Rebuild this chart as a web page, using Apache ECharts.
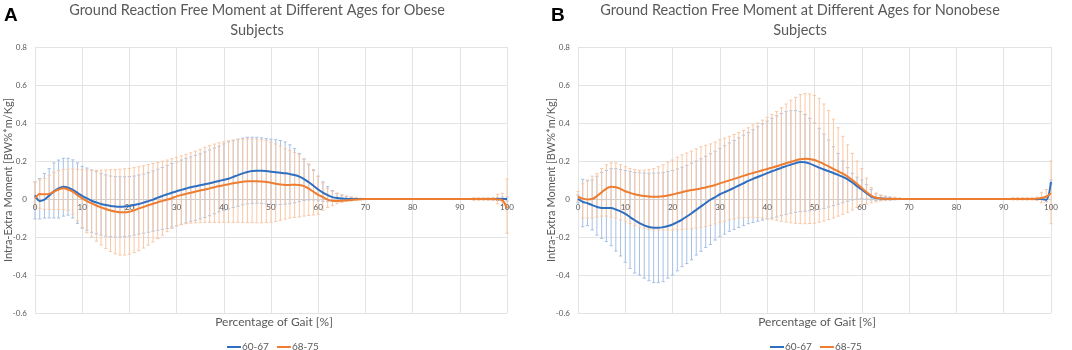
<!DOCTYPE html>
<html><head><meta charset="utf-8">
<script src="https://cdn.jsdelivr.net/npm/echarts@6/dist/echarts.min.js"></script>
<style>html,body{margin:0;padding:0;background:#fff}#c{width:1072px;height:350px}</style>
</head><body><div id="c"></div>
<script>
// Percentage of gait (x positions)
const gaitPct = [0,1,2,3,4,5,6,7,8,9,10,11,12,13,14,15,16,17,18,19,20,21,22,23,24,25,26,27,28,29,30,31,32,33,34,35,36,37,38,39,40,41,42,43,44,45,46,47,48,49,50,51,52,53,54,55,56,57,58,59,60,61,62,63,64,65,66,67,68,69,70,71,72,73,74,75,76,77,78,79,80,81,82,83,84,85,86,87,88,89,90,91,92,93,94,95,96,97,98,99,100];
const seriesNames = ['60-67', '68-75'];
const yTicks = [-0.6, -0.4, -0.2, 0, 0.2, 0.4, 0.6, 0.8];
const xTicks = [0, 10, 20, 30, 40, 50, 60, 70, 80, 90, 100];

// ---- Panel A (Obese) ----
const obese6067Mean = [
0.02,-0.01,-0.003,0.018,0.04,0.056,0.064,0.06,0.048,0.032,
0.016,0.003,-0.009,-0.018,-0.026,-0.032,-0.037,-0.04,-0.041,-0.04,
-0.037,-0.032,-0.026,-0.019,-0.011,-0.003,0.007,0.016,0.025,0.033,
0.041,0.048,0.055,0.062,0.067,0.072,0.078,0.083,0.089,0.095,
0.101,0.107,0.116,0.126,0.135,0.142,0.147,0.149,0.149,0.147,
0.144,0.141,0.138,0.135,0.131,0.126,0.118,0.105,0.088,0.07,
0.05,0.033,0.02,0.01,0.005,0.002,0.001,0,0,0,
0,0,0,0,0,0,0,0,0,0,
0,0,0,0,0,0,0,0,0,0,
0,0,0,0,0,0,0,0,0,0,
0];
const obese6067Hi = [
0.09,0.108,0.135,0.16,0.19,0.205,0.214,0.214,0.206,0.19,
0.172,0.163,0.152,0.144,0.135,0.127,0.121,0.118,0.117,0.117,
0.118,0.121,0.126,0.131,0.139,0.148,0.157,0.166,0.177,0.187,
0.196,0.205,0.214,0.222,0.23,0.238,0.248,0.258,0.268,0.278,
0.29,0.3,0.308,0.315,0.32,0.325,0.325,0.325,0.322,0.318,
0.315,0.312,0.308,0.3,0.285,0.265,0.24,0.21,0.18,0.15,
0.12,0.09,0.065,0.045,0.03,0.02,0.013,0.008,0.005,0.003,
null,null,null,null,null,null,null,null,null,null,
null,null,null,null,null,null,null,null,null,null,
null,null,null,0.004,0.004,0.004,0.005,0.006,0.008,0.01,
0.01];
const obese6067Lo = [
-0.105,-0.105,-0.1,-0.1,-0.1,-0.1,-0.09,-0.085,-0.1,-0.128,
-0.154,-0.165,-0.175,-0.183,-0.19,-0.195,-0.198,-0.2,-0.2,-0.198,
-0.195,-0.19,-0.185,-0.18,-0.175,-0.17,-0.165,-0.16,-0.155,-0.148,
-0.14,-0.133,-0.126,-0.118,-0.112,-0.105,-0.097,-0.088,-0.078,-0.068,
-0.06,-0.052,-0.045,-0.038,-0.031,-0.026,-0.023,-0.022,-0.023,-0.026,
-0.028,-0.03,-0.029,-0.027,-0.025,-0.02,-0.014,-0.008,-0.005,-0.005,
-0.01,-0.012,-0.012,-0.01,-0.008,-0.006,-0.005,-0.004,-0.003,-0.002,
null,null,null,null,null,null,null,null,null,null,
null,null,null,null,null,null,null,null,null,null,
null,null,null,-0.004,-0.004,-0.004,-0.005,-0.006,-0.008,-0.01,
-0.01];
const obese6875Mean = [
0.003,0.026,0.025,0.027,0.038,0.05,0.056,0.05,0.039,0.02,
0.003,-0.011,-0.023,-0.034,-0.044,-0.053,-0.061,-0.066,-0.07,-0.07,
-0.067,-0.06,-0.05,-0.042,-0.033,-0.025,-0.017,-0.01,-0.003,0.004,
0.014,0.021,0.027,0.033,0.039,0.045,0.05,0.056,0.062,0.068,
0.073,0.078,0.083,0.087,0.091,0.093,0.094,0.094,0.092,0.089,
0.085,0.08,0.076,0.074,0.074,0.075,0.074,0.068,0.055,0.038,
0.022,0.01,-0.003,-0.009,-0.01,-0.009,-0.007,-0.005,-0.003,-0.001,
0,0,0,0,0,0,0,0,0,0,
0,0,0,0,0,0,0,0,0,0,
0,0,0,0,0,0,0,0,-0.002,-0.006,
-0.05];
const obese6875Hi = [
0.09,0.1,0.11,0.125,0.14,0.15,0.155,0.158,0.158,0.156,
0.155,0.153,0.152,0.152,0.152,0.153,0.154,0.155,0.157,0.159,
0.161,0.165,0.17,0.175,0.181,0.187,0.193,0.199,0.205,0.212,
0.219,0.227,0.235,0.243,0.252,0.262,0.272,0.281,0.289,0.296,
0.301,0.306,0.31,0.313,0.315,0.316,0.316,0.315,0.312,0.308,
0.3,0.29,0.278,0.265,0.255,0.245,0.232,0.212,0.185,0.155,
0.12,0.085,0.055,0.04,0.03,0.022,0.016,0.012,0.008,0.004,
null,null,null,null,null,null,null,null,null,null,
null,null,null,null,null,null,null,null,null,null,
null,null,null,0.006,0.006,0.006,0.006,0.008,0.025,0.03,
0.105];
const obese6875Lo = [
-0.04,-0.05,-0.055,-0.055,-0.055,-0.055,-0.055,-0.06,-0.08,-0.115,
-0.15,-0.178,-0.2,-0.222,-0.242,-0.26,-0.276,-0.288,-0.295,-0.295,
-0.29,-0.282,-0.272,-0.258,-0.243,-0.226,-0.208,-0.19,-0.172,-0.155,
-0.142,-0.135,-0.13,-0.127,-0.125,-0.124,-0.123,-0.123,-0.123,-0.123,
-0.123,-0.123,-0.123,-0.123,-0.123,-0.123,-0.124,-0.125,-0.125,-0.124,
-0.122,-0.118,-0.112,-0.106,-0.1,-0.097,-0.094,-0.09,-0.087,-0.084,
-0.08,-0.06,-0.045,-0.035,-0.025,-0.018,-0.013,-0.01,-0.007,-0.004,
null,null,null,null,null,null,null,null,null,null,
null,null,null,null,null,null,null,null,null,null,
null,null,null,-0.006,-0.006,-0.006,-0.006,-0.008,-0.025,-0.035,
-0.18];

// ---- Panel B (Nonobese) ----
const nonobese6067Mean = [
0,-0.015,-0.022,-0.032,-0.042,-0.047,-0.048,-0.048,-0.055,-0.065,
-0.078,-0.095,-0.112,-0.127,-0.139,-0.147,-0.151,-0.151,-0.148,-0.142,
-0.134,-0.122,-0.108,-0.092,-0.075,-0.057,-0.039,-0.021,-0.004,0.01,
0.025,0.036,0.047,0.059,0.071,0.083,0.095,0.106,0.116,0.126,
0.136,0.146,0.155,0.164,0.173,0.181,0.189,0.195,0.193,0.186,
0.176,0.165,0.155,0.146,0.137,0.127,0.116,0.103,0.087,0.068,
0.05,0.03,0.013,0.005,0.003,0.001,0.001,0,0,0,
0,0,0,0,0,0,0,0,0,0,
0,0,0,0,0,0,0,0,0,0,
0,0,0,0,0,0,0,0,0,-0.005,
0.09];
const nonobese6067Hi = [
0.02,0.104,0.095,0.1,0.12,0.14,0.15,0.16,0.16,0.155,
0.15,0.145,0.14,0.138,0.137,0.136,0.136,0.137,0.14,0.145,
0.15,0.158,0.167,0.177,0.188,0.2,0.212,0.225,0.238,0.252,
0.266,0.28,0.295,0.308,0.322,0.336,0.35,0.365,0.38,0.395,
0.41,0.425,0.438,0.45,0.46,0.465,0.465,0.46,0.445,0.425,
0.4,0.372,0.342,0.31,0.275,0.24,0.2,0.165,0.135,0.115,
0.1,0.075,0.05,0.03,0.02,0.014,0.01,0.007,0.004,0.002,
null,null,null,null,null,null,null,null,null,null,
null,null,null,null,null,null,null,null,null,null,
null,null,null,0.003,0.003,0.003,0.003,0.003,0.003,0.005,
0.1];
const nonobese6067Lo = [
-0.02,-0.146,-0.14,-0.163,-0.19,-0.207,-0.224,-0.246,-0.274,-0.3,
-0.333,-0.365,-0.39,-0.4,-0.417,-0.43,-0.44,-0.44,-0.435,-0.417,
-0.4,-0.378,-0.356,-0.34,-0.32,-0.295,-0.275,-0.255,-0.24,-0.216,
-0.198,-0.185,-0.17,-0.16,-0.15,-0.14,-0.13,-0.124,-0.117,-0.111,
-0.105,-0.1,-0.095,-0.088,-0.081,-0.075,-0.07,-0.067,-0.065,-0.062,
-0.06,-0.055,-0.05,-0.042,-0.035,-0.027,-0.02,-0.012,-0.005,0,
0.003,0,-0.005,-0.008,-0.008,-0.007,-0.006,-0.004,-0.003,-0.002,
null,null,null,null,null,null,null,null,null,null,
null,null,null,null,null,null,null,null,null,null,
null,null,null,-0.003,-0.003,-0.003,-0.003,-0.003,-0.003,-0.015,
0.08];
const nonobese6875Mean = [
0.012,0.002,-0.002,0,0.015,0.035,0.055,0.064,0.062,0.053,
0.041,0.032,0.025,0.02,0.016,0.013,0.012,0.012,0.014,0.018,
0.024,0.03,0.036,0.042,0.047,0.051,0.056,0.061,0.067,0.074,
0.082,0.09,0.098,0.106,0.114,0.122,0.13,0.137,0.144,0.151,
0.158,0.165,0.172,0.18,0.188,0.196,0.203,0.209,0.212,0.211,
0.205,0.195,0.184,0.172,0.159,0.146,0.133,0.118,0.1,0.079,
0.058,0.037,0.018,0.007,0.003,0.001,0,0,0,0,
0,0,0,0,0,0,0,0,0,0,
0,0,0,0,0,0,0,0,0,0,
0,0,0,0,0,0,0,0.002,0.005,0.012,
0.03];
const nonobese6875Hi = [
0.04,0.08,0.1,0.12,0.135,0.16,0.18,0.19,0.19,0.18,
0.17,0.16,0.155,0.152,0.152,0.155,0.16,0.17,0.18,0.195,
0.205,0.22,0.232,0.242,0.252,0.264,0.275,0.283,0.29,0.3,
0.312,0.32,0.33,0.34,0.35,0.36,0.375,0.39,0.4,0.415,
0.43,0.445,0.46,0.48,0.5,0.52,0.535,0.55,0.555,0.553,
0.545,0.53,0.5,0.465,0.42,0.375,0.33,0.285,0.24,0.2,
0.16,0.11,0.06,0.03,0.02,0.015,0.01,0.01,0.005,null,
null,null,null,null,null,null,null,null,null,null,
null,null,null,null,null,null,null,null,null,null,
null,null,0.007,0.007,0.007,0.007,0.007,0.01,0.035,0.05,
0.2];
const nonobese6875Lo = [
-0.01,-0.1,-0.1,-0.1,-0.095,-0.09,-0.09,-0.095,-0.1,-0.11,
-0.12,-0.13,-0.14,-0.148,-0.155,-0.16,-0.163,-0.163,-0.163,-0.163,
-0.163,-0.162,-0.16,-0.158,-0.156,-0.153,-0.149,-0.144,-0.138,-0.131,
-0.124,-0.117,-0.11,-0.105,-0.1,-0.098,-0.097,-0.097,-0.098,-0.1,
-0.103,-0.107,-0.112,-0.117,-0.121,-0.125,-0.128,-0.13,-0.13,-0.129,
-0.127,-0.122,-0.116,-0.108,-0.1,-0.09,-0.08,-0.07,-0.058,-0.045,
-0.035,-0.027,-0.02,-0.015,-0.01,-0.007,-0.005,-0.004,-0.003,null,
null,null,null,null,null,null,null,null,null,null,
null,null,null,null,null,null,null,null,null,null,
null,null,-0.005,-0.005,-0.005,-0.005,-0.005,-0.008,-0.02,-0.015,
-0.13];

const FONT = 'Lato, "Open Sans", sans-serif';
const GREY = '#595959';
const BLUE = '#2e6fc2', ORANGE = '#ed7d31';
const BLUE_ERR = '#a6c0e6', ORANGE_ERR = '#f8c8a6';
const GRID_C = '#e3e3e3';

function lineData(m) { return gaitPct.map((x, i) => [x, m[i]]); }
function errData(lo, hi) {
  const d = [];
  for (let i = 0; i < gaitPct.length; i++) {
    if (lo[i] != null && hi[i] != null) d.push([gaitPct[i], lo[i], hi[i]]);
  }
  return d;
}
function renderErr(color) {
  return function (params, api) {
    const x = api.value(0);
    const p1 = api.coord([x, api.value(1)]);
    const p2 = api.coord([x, api.value(2)]);
    const w = 1.6;
    const st = { stroke: color, lineWidth: 1 };
    return { type: 'group', children: [
      { type: 'line', shape: { x1: p1[0], y1: p1[1], x2: p2[0], y2: p2[1] }, style: st },
      { type: 'line', shape: { x1: p1[0] - w, y1: p1[1], x2: p1[0] + w, y2: p1[1] }, style: st },
      { type: 'line', shape: { x1: p2[0] - w, y1: p2[1], x2: p2[0] + w, y2: p2[1] }, style: st }
    ]};
  };
}

const grids = [
  { left: 35, top: 47, width: 472, height: 266 },
  { left: 578, top: 47, width: 473, height: 266 }
];
function xAx(g) {
  return { type: 'value', gridIndex: g, min: xTicks[0], max: xTicks[xTicks.length - 1], interval: 10, z: 0,
    axisLine: { show: true, onZero: true, lineStyle: { color: '#cfcfcf', width: 1 } },
    axisTick: { show: false },
    axisLabel: { show: false },
    splitLine: { show: true, lineStyle: { color: GRID_C, width: 1 } } };
}
function yAx(g) {
  return { type: 'value', gridIndex: g, min: yTicks[0], max: yTicks[yTicks.length - 1], interval: 0.2,
    axisLine: { show: false }, axisTick: { show: false },
    axisLabel: { color: GREY, fontSize: 8, margin: 8, fontFamily: FONT },
    splitLine: { show: true, lineStyle: { color: GRID_C, width: 1 } } };
}
function panelSeries(g, m1, lo1, hi1, m2, lo2, hi2) {
  return [
    { type: 'custom', xAxisIndex: g, yAxisIndex: g, renderItem: renderErr(BLUE_ERR), data: errData(lo1, hi1), z: 1, silent: true, encode: { x: 0, y: [1, 2] } },
    { type: 'custom', xAxisIndex: g, yAxisIndex: g, renderItem: renderErr(ORANGE_ERR), data: errData(lo2, hi2), z: 2, silent: true, encode: { x: 0, y: [1, 2] } },
    { name: seriesNames[0], type: 'line', xAxisIndex: g, yAxisIndex: g, data: lineData(m1), showSymbol: false, smooth: 0.3, lineStyle: { color: BLUE, width: 2 }, itemStyle: { color: BLUE }, z: 3 },
    { name: seriesNames[1], type: 'line', xAxisIndex: g, yAxisIndex: g, data: lineData(m2), showSymbol: false, smooth: 0.3, lineStyle: { color: ORANGE, width: 2 }, itemStyle: { color: ORANGE }, z: 4 }
  ];
}
function legendAt(left) {
  return { left: left, top: 337, icon: 'rect', itemWidth: 14, itemHeight: 2, itemGap: 8,
    data: seriesNames, textStyle: { color: GREY, fontSize: 10, fontFamily: FONT, padding: [0, 0, 0, -4] }, selectedMode: false };
}
function txt(x, y, text, opts, z) {
  return Object.assign({ type: 'text', x: x, y: y, silent: true, z: z == null ? 100 : z,
    style: Object.assign({ text: text, fill: GREY, font: '14.5px ' + FONT, textAlign: 'center', textVerticalAlign: 'top' }, opts || {}) });
}

const baseGraphics = [
  txt(4, 6, 'A', { fill: '#000', font: 'bold 19px "Liberation Sans", Arial, sans-serif', textAlign: 'left' }),
  txt(551, 6, 'B', { fill: '#000', font: 'bold 19px "Liberation Sans", Arial, sans-serif', textAlign: 'left' }),
  txt(257, 0, 'Ground Reaction Free Moment at Different Ages for Obese\nSubjects', { lineHeight: 20 }),
  txt(800, 0, 'Ground Reaction Free Moment at Different Ages for Nonobese\nSubjects', { lineHeight: 20 }),
  txt(274, 322, 'Percentage of Gait [%]', { font: '12px ' + FONT, textVerticalAlign: 'middle' }),
  txt(817, 322, 'Percentage of Gait [%]', { font: '12px ' + FONT, textVerticalAlign: 'middle' }),
  Object.assign(txt(8, 180, 'Intra-Extra Moment [BW%*m/Kg]', { font: '11px ' + FONT, textVerticalAlign: 'middle' }), { rotation: Math.PI / 2 }),
  Object.assign(txt(551, 180, 'Intra-Extra Moment [BW%*m/Kg]', { font: '11px ' + FONT, textVerticalAlign: 'middle' }), { rotation: Math.PI / 2 })
];

const chart = echarts.init(document.getElementById('c'), null, { renderer: 'canvas' });
chart.setOption({
  animation: false,
  backgroundColor: '#ffffff',
  grid: grids,
  xAxis: [xAx(0), xAx(1)],
  yAxis: [yAx(0), yAx(1)],
  legend: [legendAt(222), legendAt(765)],
  series: panelSeries(0, obese6067Mean, obese6067Lo, obese6067Hi, obese6875Mean, obese6875Lo, obese6875Hi)
    .concat(panelSeries(1, nonobese6067Mean, nonobese6067Lo, nonobese6067Hi, nonobese6875Mean, nonobese6875Lo, nonobese6875Hi)),
  graphic: baseGraphics
});

// x tick labels placed next to the zero line (Excel style), positioned through the chart's own scales;
// drawn above the error bars but beneath the mean lines
const tickLabels = [];
[0, 1].forEach(function (g) {
  xTicks.forEach(function (t) {
    const p = chart.convertToPixel({ gridIndex: g }, [t, 0]);
    tickLabels.push(txt(p[0], p[1] + 4, String(t), { font: '8px ' + FONT }, 2.5));
  });
});
chart.setOption({ graphic: baseGraphics.concat(tickLabels) });
</script>
</body></html>
